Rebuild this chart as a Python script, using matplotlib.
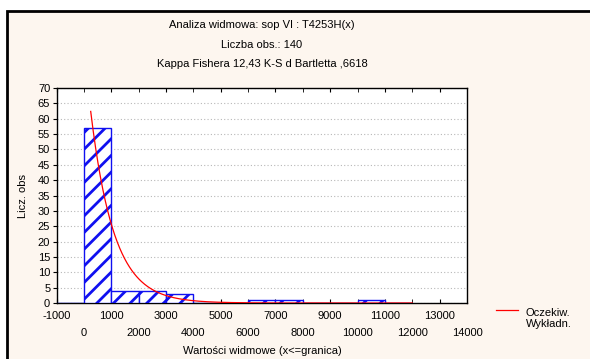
import numpy as np
import matplotlib.pyplot as plt
from matplotlib.patches import Rectangle
from matplotlib.lines import Line2D

plt.rcParams['font.family'] = ['Liberation Sans', 'DejaVu Sans']
plt.rcParams['hatch.linewidth'] = 2.0

# histogram of spectral values, bin width 1000
bin_left = [-1000, 0, 1000, 2000, 3000, 4000, 5000, 6000, 7000, 8000, 9000, 10000, 11000]
counts = [0, 57, 4, 4, 3, 0, 0, 1, 1, 0, 0, 1, 0]
bin_width = 1000

# expected exponential curve parameters
n_obs = 71
rate = 0.00118
curve_start = 250
curve_end = 12000

# staggered x labels: odd thousands on the first row, even on the second
x_ticks_odd = list(range(-1000, 13001, 2000))
x_ticks_even = list(range(0, 14001, 2000))
y_ticks = list(range(0, 71, 5))

title_lines = ["Analiza widmowa: sop VI : T4253H(x)",
               "Liczba obs.: 140",
               "Kappa Fishera 12,43 K-S d Bartletta ,6618"]
legend_lines = ["Oczekiw.", "Wykładn."]

fig = plt.figure(figsize=(5.9, 3.59), dpi=100)
fig.patch.set_facecolor("white")

# cream panel with black border on top and left
panel = Rectangle((7 / 590, -0.05), 1.2, 1.05 - 11 / 359, transform=fig.transFigure,
                  facecolor="#FDF6EF", edgecolor="black", linewidth=2, zorder=-10)
fig.patches.append(panel)

ax = fig.add_axes([56.5 / 590, 56 / 359, 410.5 / 590, 215 / 359])
ax.set_facecolor("white")

ax.bar(bin_left, counts, width=bin_width, align="edge", facecolor="white",
       edgecolor="#1010F0", linewidth=1.0, hatch="//", zorder=3)

xs = np.linspace(curve_start, curve_end, 400)
expected = n_obs * bin_width * rate * np.exp(-rate * xs)
ax.plot(xs, expected, color="#FF0000", linewidth=0.9, zorder=4)

ax.set_xlim(-1000, 14000)
ax.set_ylim(0, 70)
ax.set_yticks(y_ticks)
ax.set_xticks(x_ticks_odd)
ax.set_xticklabels([str(v) for v in x_ticks_odd])
ax.set_xticks(x_ticks_even, minor=True)
ax.set_xticklabels([str(v) for v in x_ticks_even], minor=True)
ax.yaxis.grid(True, color="#B8B8B8", linestyle=(0, (1, 2)), linewidth=0.8)
ax.set_axisbelow(True)

ax.tick_params(axis="x", which="major", direction="in", top=True, length=3, labelsize=8, pad=6)
ax.tick_params(axis="x", which="minor", direction="in", top=True, length=3, labelsize=8, pad=18)
ax.tick_params(axis="y", direction="out", length=3, labelsize=8, pad=1.5)
for s in ax.spines.values():
    s.set_linewidth(1.0)
    s.set_color("black")

ax.set_ylabel("Licz. obs", fontsize=8, labelpad=7)
fig.text(262 / 590, 1 - 351 / 359, "Wartości widmowe (x<=granica)", ha="center", va="center", fontsize=8)

for i, line in enumerate(title_lines):
    fig.text(262 / 590, 1 - (25 + 19.5 * i) / 359, line, ha="center", va="center", fontsize=8)

# legend entry for the expected curve
fig.add_artist(Line2D([496 / 590, 518 / 590], [1 - 310 / 359, 1 - 310 / 359],
                      transform=fig.transFigure, color="#FF0000", linewidth=0.9))
for i, line in enumerate(legend_lines):
    fig.text(526 / 590, 1 - (313 + 11 * i) / 359, line, ha="left", va="center", fontsize=8)

fig.savefig("out.png", dpi=100, facecolor=fig.get_facecolor())
